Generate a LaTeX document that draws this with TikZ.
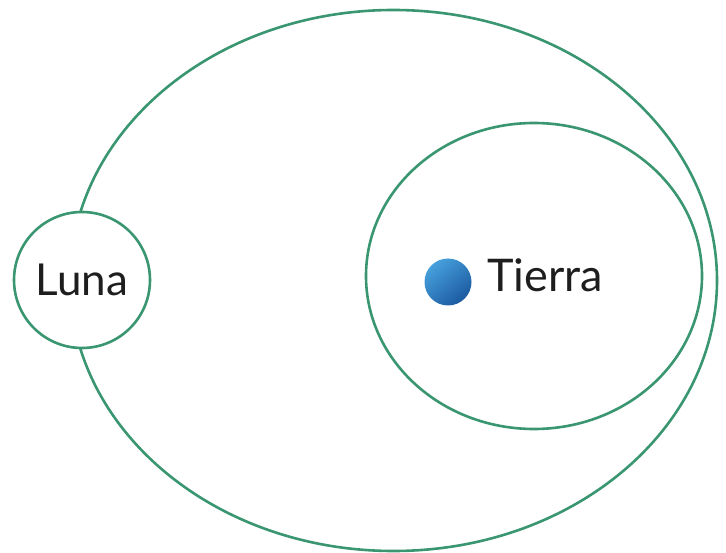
\documentclass[tikz,border=0pt]{standalone}
\usepackage{fontspec}
\setmainfont{Lato}
\usepackage{tikz}
\usetikzlibrary{shapes.geometric, positioning}

\definecolor{orbitgreen}{RGB}{58,150,112}
\definecolor{textgray}{RGB}{30,30,30}
\definecolor{earthlight}{RGB}{70,160,220}
\definecolor{earthdark}{RGB}{28,90,160}

\begin{document}
\begin{tikzpicture}[
    x=1pt, y=-1pt,
    orbit/.style={draw=orbitgreen, line width=2.6pt, ellipse, inner sep=0pt},
    lunanode/.style={draw=orbitgreen, line width=2.6pt, circle, fill=white, minimum size=136pt, inner sep=0pt, font=\fontsize{44}{48}\selectfont, text=textgray},
    earthdot/.style={circle, minimum size=47pt, inner sep=0pt, shading=axis, top color=earthlight, bottom color=earthdark, shading angle=40},
    label/.style={font=\fontsize{45}{50}\selectfont, text=textgray, inner sep=0pt}
]
\useasboundingbox (0,0) rectangle (726,553);

% Orbits
\node[orbit, minimum width=647pt, minimum height=541pt] (outerorbit) at (393.5,280.5) {};
\node[orbit, minimum width=336pt, minimum height=306pt] (innerorbit) at (534,276) {};

% Moon
\node[lunanode] (luna) at (82,280) {Luna};

% Earth
\node[earthdot] (tierra) at (448,282) {};
\node[label, anchor=base west] (tierralabel) at (487,292) {Tierra};

\end{tikzpicture}
\end{document}
